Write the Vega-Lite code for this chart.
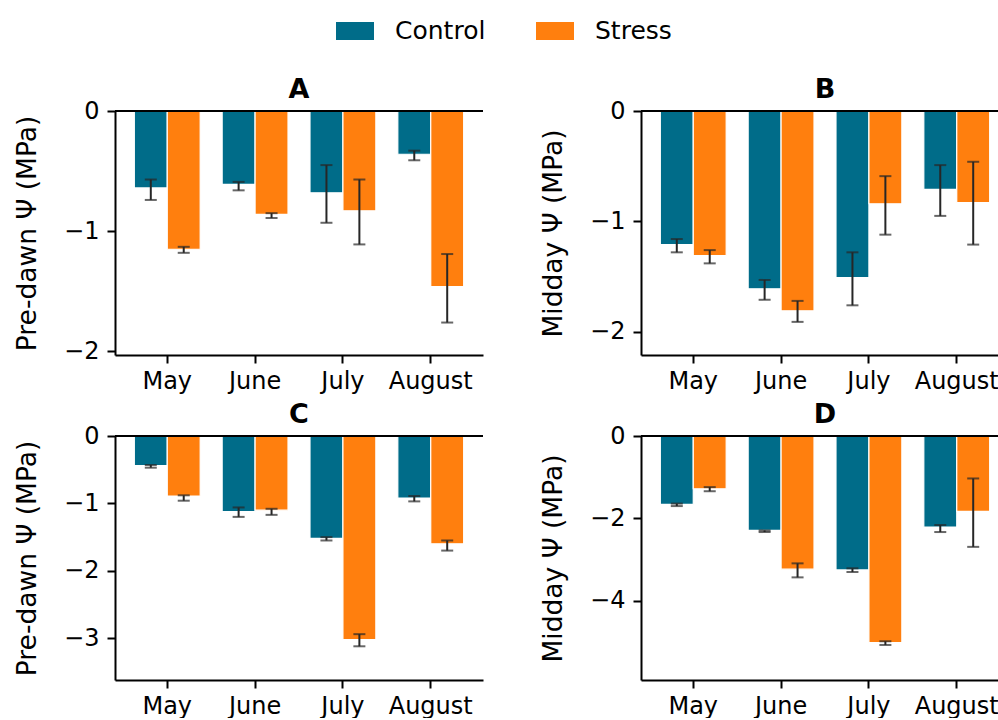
{
  "$schema": "https://vega.github.io/schema/vega-lite/v6.json",
  "background": "white",
  "padding": {"left": 14, "top": 12, "right": 0, "bottom": 0},
  "datasets": {
    "psi": [
      {"panel": "A", "month": "May", "group": "Control", "v": -0.64, "lo": -0.74, "hi": -0.57},
      {"panel": "A", "month": "May", "group": "Stress", "v": -1.15, "lo": -1.18, "hi": -1.13},
      {"panel": "A", "month": "June", "group": "Control", "v": -0.61, "lo": -0.66, "hi": -0.59},
      {"panel": "A", "month": "June", "group": "Stress", "v": -0.86, "lo": -0.89, "hi": -0.85},
      {"panel": "A", "month": "July", "group": "Control", "v": -0.68, "lo": -0.93, "hi": -0.45},
      {"panel": "A", "month": "July", "group": "Stress", "v": -0.83, "lo": -1.11, "hi": -0.57},
      {"panel": "A", "month": "August", "group": "Control", "v": -0.36, "lo": -0.41, "hi": -0.33},
      {"panel": "A", "month": "August", "group": "Stress", "v": -1.46, "lo": -1.76, "hi": -1.19},
      {"panel": "B", "month": "May", "group": "Control", "v": -1.21, "lo": -1.28, "hi": -1.16},
      {"panel": "B", "month": "May", "group": "Stress", "v": -1.31, "lo": -1.38, "hi": -1.26},
      {"panel": "B", "month": "June", "group": "Control", "v": -1.61, "lo": -1.71, "hi": -1.53},
      {"panel": "B", "month": "June", "group": "Stress", "v": -1.81, "lo": -1.91, "hi": -1.72},
      {"panel": "B", "month": "July", "group": "Control", "v": -1.51, "lo": -1.76, "hi": -1.28},
      {"panel": "B", "month": "July", "group": "Stress", "v": -0.84, "lo": -1.12, "hi": -0.59},
      {"panel": "B", "month": "August", "group": "Control", "v": -0.71, "lo": -0.95, "hi": -0.49},
      {"panel": "B", "month": "August", "group": "Stress", "v": -0.83, "lo": -1.21, "hi": -0.46},
      {"panel": "C", "month": "May", "group": "Control", "v": -0.44, "lo": -0.47, "hi": -0.43},
      {"panel": "C", "month": "May", "group": "Stress", "v": -0.89, "lo": -0.96, "hi": -0.88},
      {"panel": "C", "month": "June", "group": "Control", "v": -1.12, "lo": -1.2, "hi": -1.06},
      {"panel": "C", "month": "June", "group": "Stress", "v": -1.1, "lo": -1.17, "hi": -1.08},
      {"panel": "C", "month": "July", "group": "Control", "v": -1.52, "lo": -1.55, "hi": -1.5},
      {"panel": "C", "month": "July", "group": "Stress", "v": -3.02, "lo": -3.12, "hi": -2.94},
      {"panel": "C", "month": "August", "group": "Control", "v": -0.92, "lo": -0.97, "hi": -0.89},
      {"panel": "C", "month": "August", "group": "Stress", "v": -1.6, "lo": -1.7, "hi": -1.55},
      {"panel": "D", "month": "May", "group": "Control", "v": -1.66, "lo": -1.7, "hi": -1.64},
      {"panel": "D", "month": "May", "group": "Stress", "v": -1.28, "lo": -1.34, "hi": -1.24},
      {"panel": "D", "month": "June", "group": "Control", "v": -2.29, "lo": -2.33, "hi": -2.29},
      {"panel": "D", "month": "June", "group": "Stress", "v": -3.23, "lo": -3.43, "hi": -3.09},
      {"panel": "D", "month": "July", "group": "Control", "v": -3.25, "lo": -3.3, "hi": -3.21},
      {"panel": "D", "month": "July", "group": "Stress", "v": -5.01, "lo": -5.07, "hi": -4.98},
      {"panel": "D", "month": "August", "group": "Control", "v": -2.21, "lo": -2.33, "hi": -2.16},
      {"panel": "D", "month": "August", "group": "Stress", "v": -1.83, "lo": -2.69, "hi": -1.03}
    ]
  },
  "columns": 2,
  "bounds": "flush",
  "spacing": {"row": 81, "column": 158},
  "resolve": {"scale": {"color": "shared"}, "legend": {"color": "shared"}},
  "concat": [
    {
      "title": "A",
      "width": 368, "height": 244,
      "data": {"name": "psi"},
      "transform": [{"filter": "datum.panel === 'A'"}],
      "layer": [
        {
          "mark": {"type": "bar", "stroke": "white", "strokeWidth": 1.2},
          "encoding": {
            "x": {"field": "month", "type": "nominal", "sort": ["May", "June", "July", "August"], "scale": {"paddingInner": 0.25, "paddingOuter": 0.22}, "axis": {"title": null}},
            "xOffset": {"field": "group", "type": "nominal", "sort": ["Control", "Stress"]},
            "y": {"field": "v", "type": "quantitative", "title": "Pre-dawn Ψ (MPa)", "scale": {"domain": [-2.03, 0], "nice": false, "zero": false}, "axis": {"values": [-2, -1, 0], "labelExpr": "replace(datum.label, '.0', '')", "labelOverlap": false}},
            "color": {"field": "group", "type": "nominal", "scale": {"domain": ["Control", "Stress"], "range": ["#006c89", "#ff7f0e"]},
              "legend": {"orient": "none", "legendX": 221, "legendY": -99, "direction": "horizontal", "title": null}}
          }
        },
        {
          "mark": {"type": "rule", "color": "#262626", "strokeWidth": 2},
          "encoding": {
            "x": {"field": "month", "type": "nominal", "sort": ["May", "June", "July", "August"]},
            "xOffset": {"field": "group", "type": "nominal", "sort": ["Control", "Stress"]},
            "y": {"field": "lo", "type": "quantitative", "title": "Pre-dawn Ψ (MPa)"},
            "y2": {"field": "hi"}
          }
        },
        {
          "mark": {"type": "tick", "color": "#262626", "thickness": 2, "size": 12},
          "encoding": {
            "x": {"field": "month", "type": "nominal", "sort": ["May", "June", "July", "August"]},
            "xOffset": {"field": "group", "type": "nominal", "sort": ["Control", "Stress"]},
            "y": {"field": "lo", "type": "quantitative", "title": "Pre-dawn Ψ (MPa)"}
          }
        },
        {
          "mark": {"type": "tick", "color": "#262626", "thickness": 2, "size": 12},
          "encoding": {
            "x": {"field": "month", "type": "nominal", "sort": ["May", "June", "July", "August"]},
            "xOffset": {"field": "group", "type": "nominal", "sort": ["Control", "Stress"]},
            "y": {"field": "hi", "type": "quantitative", "title": "Pre-dawn Ψ (MPa)"}
          }
        },
        {
          "data": {"values": [{}]},
          "mark": {"type": "rule", "color": "black", "strokeWidth": 2},
          "encoding": {"y": {"datum": 0, "type": "quantitative", "title": "Pre-dawn Ψ (MPa)"}}
        }
      ]
    },
    {
      "title": "B",
      "width": 368, "height": 244,
      "data": {"name": "psi"},
      "transform": [{"filter": "datum.panel === 'B'"}],
      "layer": [
        {
          "mark": {"type": "bar", "stroke": "white", "strokeWidth": 1.2},
          "encoding": {
            "x": {"field": "month", "type": "nominal", "sort": ["May", "June", "July", "August"], "scale": {"paddingInner": 0.25, "paddingOuter": 0.22}, "axis": {"title": null}},
            "xOffset": {"field": "group", "type": "nominal", "sort": ["Control", "Stress"]},
            "y": {"field": "v", "type": "quantitative", "title": "Midday Ψ (MPa)", "scale": {"domain": [-2.21, 0], "nice": false, "zero": false}, "axis": {"values": [-2, -1, 0], "labelExpr": "replace(datum.label, '.0', '')", "labelOverlap": false}},
            "color": {"field": "group", "type": "nominal"}
          }
        },
        {
          "mark": {"type": "rule", "color": "#262626", "strokeWidth": 2},
          "encoding": {
            "x": {"field": "month", "type": "nominal", "sort": ["May", "June", "July", "August"]},
            "xOffset": {"field": "group", "type": "nominal", "sort": ["Control", "Stress"]},
            "y": {"field": "lo", "type": "quantitative", "title": "Midday Ψ (MPa)"},
            "y2": {"field": "hi"}
          }
        },
        {
          "mark": {"type": "tick", "color": "#262626", "thickness": 2, "size": 12},
          "encoding": {
            "x": {"field": "month", "type": "nominal", "sort": ["May", "June", "July", "August"]},
            "xOffset": {"field": "group", "type": "nominal", "sort": ["Control", "Stress"]},
            "y": {"field": "lo", "type": "quantitative", "title": "Midday Ψ (MPa)"}
          }
        },
        {
          "mark": {"type": "tick", "color": "#262626", "thickness": 2, "size": 12},
          "encoding": {
            "x": {"field": "month", "type": "nominal", "sort": ["May", "June", "July", "August"]},
            "xOffset": {"field": "group", "type": "nominal", "sort": ["Control", "Stress"]},
            "y": {"field": "hi", "type": "quantitative", "title": "Midday Ψ (MPa)"}
          }
        },
        {
          "data": {"values": [{}]},
          "mark": {"type": "rule", "color": "black", "strokeWidth": 2},
          "encoding": {"y": {"datum": 0, "type": "quantitative", "title": "Midday Ψ (MPa)"}}
        }
      ]
    },
    {
      "title": "C",
      "width": 368, "height": 244,
      "data": {"name": "psi"},
      "transform": [{"filter": "datum.panel === 'C'"}],
      "layer": [
        {
          "mark": {"type": "bar", "stroke": "white", "strokeWidth": 1.2},
          "encoding": {
            "x": {"field": "month", "type": "nominal", "sort": ["May", "June", "July", "August"], "scale": {"paddingInner": 0.25, "paddingOuter": 0.22}, "axis": {"title": null}},
            "xOffset": {"field": "group", "type": "nominal", "sort": ["Control", "Stress"]},
            "y": {"field": "v", "type": "quantitative", "title": "Pre-dawn Ψ (MPa)", "scale": {"domain": [-3.62, 0], "nice": false, "zero": false}, "axis": {"values": [-3, -2, -1, 0], "labelExpr": "replace(datum.label, '.0', '')", "labelOverlap": false}},
            "color": {"field": "group", "type": "nominal"}
          }
        },
        {
          "mark": {"type": "rule", "color": "#262626", "strokeWidth": 2},
          "encoding": {
            "x": {"field": "month", "type": "nominal", "sort": ["May", "June", "July", "August"]},
            "xOffset": {"field": "group", "type": "nominal", "sort": ["Control", "Stress"]},
            "y": {"field": "lo", "type": "quantitative", "title": "Pre-dawn Ψ (MPa)"},
            "y2": {"field": "hi"}
          }
        },
        {
          "mark": {"type": "tick", "color": "#262626", "thickness": 2, "size": 12},
          "encoding": {
            "x": {"field": "month", "type": "nominal", "sort": ["May", "June", "July", "August"]},
            "xOffset": {"field": "group", "type": "nominal", "sort": ["Control", "Stress"]},
            "y": {"field": "lo", "type": "quantitative", "title": "Pre-dawn Ψ (MPa)"}
          }
        },
        {
          "mark": {"type": "tick", "color": "#262626", "thickness": 2, "size": 12},
          "encoding": {
            "x": {"field": "month", "type": "nominal", "sort": ["May", "June", "July", "August"]},
            "xOffset": {"field": "group", "type": "nominal", "sort": ["Control", "Stress"]},
            "y": {"field": "hi", "type": "quantitative", "title": "Pre-dawn Ψ (MPa)"}
          }
        },
        {
          "data": {"values": [{}]},
          "mark": {"type": "rule", "color": "black", "strokeWidth": 2},
          "encoding": {"y": {"datum": 0, "type": "quantitative", "title": "Pre-dawn Ψ (MPa)"}}
        }
      ]
    },
    {
      "title": "D",
      "width": 368, "height": 244,
      "data": {"name": "psi"},
      "transform": [{"filter": "datum.panel === 'D'"}],
      "layer": [
        {
          "mark": {"type": "bar", "stroke": "white", "strokeWidth": 1.2},
          "encoding": {
            "x": {"field": "month", "type": "nominal", "sort": ["May", "June", "July", "August"], "scale": {"paddingInner": 0.25, "paddingOuter": 0.22}, "axis": {"title": null}},
            "xOffset": {"field": "group", "type": "nominal", "sort": ["Control", "Stress"]},
            "y": {"field": "v", "type": "quantitative", "title": "Midday Ψ (MPa)", "scale": {"domain": [-5.92, 0], "nice": false, "zero": false}, "axis": {"values": [-4, -2, 0], "labelExpr": "replace(datum.label, '.0', '')", "labelOverlap": false}},
            "color": {"field": "group", "type": "nominal"}
          }
        },
        {
          "mark": {"type": "rule", "color": "#262626", "strokeWidth": 2},
          "encoding": {
            "x": {"field": "month", "type": "nominal", "sort": ["May", "June", "July", "August"]},
            "xOffset": {"field": "group", "type": "nominal", "sort": ["Control", "Stress"]},
            "y": {"field": "lo", "type": "quantitative", "title": "Midday Ψ (MPa)"},
            "y2": {"field": "hi"}
          }
        },
        {
          "mark": {"type": "tick", "color": "#262626", "thickness": 2, "size": 12},
          "encoding": {
            "x": {"field": "month", "type": "nominal", "sort": ["May", "June", "July", "August"]},
            "xOffset": {"field": "group", "type": "nominal", "sort": ["Control", "Stress"]},
            "y": {"field": "lo", "type": "quantitative", "title": "Midday Ψ (MPa)"}
          }
        },
        {
          "mark": {"type": "tick", "color": "#262626", "thickness": 2, "size": 12},
          "encoding": {
            "x": {"field": "month", "type": "nominal", "sort": ["May", "June", "July", "August"]},
            "xOffset": {"field": "group", "type": "nominal", "sort": ["Control", "Stress"]},
            "y": {"field": "hi", "type": "quantitative", "title": "Midday Ψ (MPa)"}
          }
        },
        {
          "data": {"values": [{}]},
          "mark": {"type": "rule", "color": "black", "strokeWidth": 2},
          "encoding": {"y": {"datum": 0, "type": "quantitative", "title": "Midday Ψ (MPa)"}}
        }
      ]
    }
  ],
  "config": {
    "font": "DejaVu Sans",
    "view": {"stroke": null},
    "axis": {
      "grid": false,
      "domainColor": "black", "domainWidth": 2,
      "tickColor": "black", "tickWidth": 2, "tickSize": 8,
      "labelFont": "DejaVu Sans", "labelFontSize": 24, "labelColor": "black",
      "titleFont": "DejaVu Sans", "titleFontSize": 26.5, "titleFontWeight": "normal", "titleColor": "black"
    },
    "axisX": {"labelAngle": 0, "labelPadding": 6},
    "axisY": {"labelPadding": 8, "titlePadding": 22, "labelOverlap": false},
    "title": {"font": "DejaVu Sans", "fontSize": 27, "fontWeight": "bold", "color": "black", "anchor": "middle", "offset": -5},
    "legend": {
      "symbolType": "M-1,-0.47H1V0.47H-1Z", "symbolSize": 1444, "symbolStrokeWidth": 0, "symbolOpacity": 1,
      "labelFont": "DejaVu Sans", "labelFontSize": 25, "labelColor": "black", "labelOffset": 21, "columnPadding": 50
    }
  }
}
